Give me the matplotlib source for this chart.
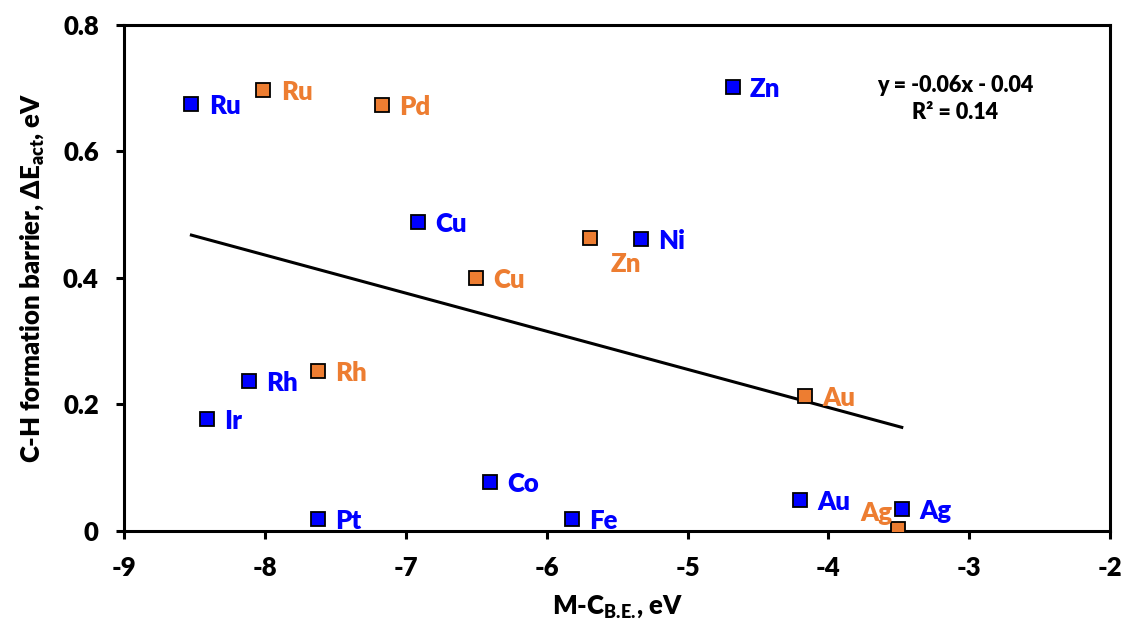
import matplotlib.pyplot as plt

plt.rcParams['font.family'] = ['Lato', 'DejaVu Sans']
plt.rcParams['font.weight'] = 'heavy'
plt.rcParams['axes.unicode_minus'] = False
plt.rcParams['mathtext.fontset'] = 'custom'
plt.rcParams['mathtext.rm'] = 'Lato:heavy'
plt.rcParams['mathtext.bf'] = 'Lato:heavy'
plt.rcParams['mathtext.it'] = 'Lato:heavy'

# blue series
blue_names = ['Ru', 'Zn', 'Cu', 'Ni', 'Rh', 'Ir', 'Co', 'Pt', 'Fe', 'Au', 'Ag']
blue_x = [-8.52, -4.68, -6.91, -5.33, -8.11, -8.41, -6.40, -7.62, -5.82, -4.20, -3.48]
blue_y = [0.675, 0.702, 0.489, 0.462, 0.237, 0.177, 0.077, 0.019, 0.019, 0.049, 0.035]

# orange series
orange_names = ['Ru', 'Pd', 'Cu', 'Zn', 'Rh', 'Au', 'Ag']
orange_x = [-8.01, -7.17, -6.50, -5.69, -7.62, -4.17, -3.51]
orange_y = [0.697, 0.674, 0.400, 0.463, 0.253, 0.213, 0.003]

# trendline
slope = -0.0603
intercept = -0.046
equation = 'y = -0.06x - 0.04\nR² = 0.14'

BLUE = '#0000FF'
ORANGE = '#ED7D31'
FS = 18.5

fig = plt.figure(figsize=(11.25, 6.31), dpi=100)
ax = fig.add_axes([0.110, 0.1585, 0.877, 0.802])

# trendline over the blue x range
tx = [min(blue_x), max(blue_x)]
ty = [slope * v + intercept for v in tx]
ax.plot(tx, ty, color='black', lw=2.2, zorder=2)

ax.plot(blue_x, blue_y, 's', ms=9.5, mfc=BLUE, mec='black', mew=1.3,
        ls='none', zorder=3)
ax.plot(orange_x, orange_y, 's', ms=9.5, mfc=ORANGE, mec='black', mew=1.3,
        ls='none', zorder=3)

# label offsets in points (default: to the right of the marker)
def label(names, xs, ys, color, special):
    for n, x, y in zip(names, xs, ys):
        dx, dy, ha = special.get(n, (12.5, -1.5, 'left'))
        ax.annotate(n, (x, y), xytext=(dx, dy), textcoords='offset points',
                    ha=ha, va='center', color=color, fontsize=FS,
                    fontweight='heavy', zorder=4)

label(blue_names, blue_x, blue_y, BLUE, {})
label(orange_names, orange_x, orange_y, ORANGE,
      {'Zn': (15, -19, 'left'), 'Ag': (-4, 11.5, 'right')})

ax.text(-3.1, 0.683, equation, ha='center', va='center', fontsize=15.5,
        fontweight='heavy', linespacing=1.4)

ax.set_xlim(-9, -2)
ax.set_ylim(0, 0.8)
ax.set_xticks([-9, -8, -7, -6, -5, -4, -3, -2])
ax.set_yticks([0, 0.2, 0.4, 0.6, 0.8])
ax.set_yticklabels(['0', '0.2', '0.4', '0.6', '0.8'])

for s in ax.spines.values():
    s.set_linewidth(2.2)
ax.tick_params(axis='both', length=6, width=2.2, labelsize=FS, direction='out')
ax.tick_params(axis='x', pad=12)
ax.tick_params(axis='y', pad=12)

ax.set_xlabel(r'M-C$_{\mathbf{B.\!E.\!}}$, eV', fontsize=FS,
              fontweight='heavy', labelpad=10)
ax.set_ylabel(r'C-H formation barrier, $\Delta$E$_{\mathbf{act}}$, eV',
              fontsize=FS, fontweight='heavy', labelpad=12)

fig.savefig('out.png', dpi=100)
